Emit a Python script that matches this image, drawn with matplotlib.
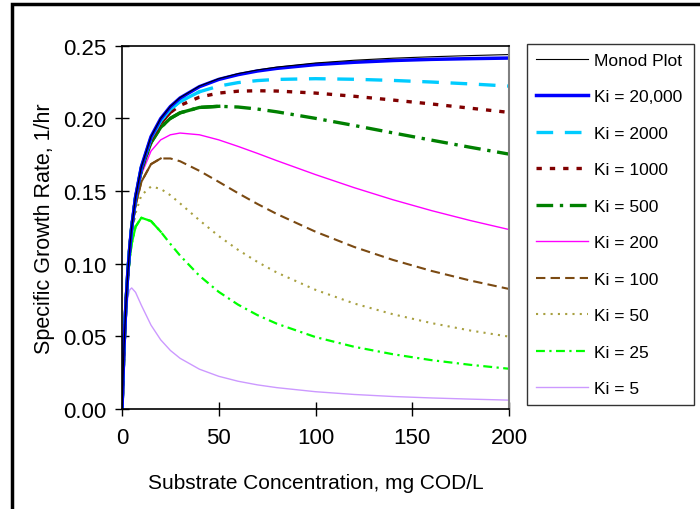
import matplotlib
matplotlib.use("Agg")
import matplotlib.pyplot as plt
from matplotlib.patches import Rectangle

plt.rcParams['font.family'] = ['Liberation Sans', 'DejaVu Sans']

# substrate concentration, mg COD/L
substrate = [0, 1, 2, 3, 4, 5, 7, 10, 15, 20, 25, 30, 40, 50, 60, 70, 80,
             100, 120, 140, 160, 180, 200]

# specific growth rate, 1/hr
monod = [0, 0.0417, 0.0714, 0.0938, 0.1111, 0.1250, 0.1458, 0.1667, 0.1875, 0.2000,
         0.2083, 0.2143, 0.2222, 0.2273, 0.2308, 0.2333, 0.2353, 0.2381, 0.2400,
         0.2414, 0.2424, 0.2432, 0.2439]
ki_20000 = [0, 0.0417, 0.0714, 0.0937, 0.1111, 0.1250, 0.1458, 0.1666, 0.1874, 0.1998,
            0.2081, 0.2140, 0.2218, 0.2268, 0.2301, 0.2326, 0.2344, 0.2370, 0.2386,
            0.2398, 0.2406, 0.2411, 0.2415]
ki_2000 = [0, 0.0417, 0.0714, 0.0937, 0.1110, 0.1248, 0.1455, 0.1661, 0.1865, 0.1984,
           0.2062, 0.2116, 0.2183, 0.2222, 0.2246, 0.2260, 0.2268, 0.2273, 0.2269,
           0.2261, 0.2250, 0.2237, 0.2222]
ki_1000 = [0, 0.0417, 0.0714, 0.0936, 0.1109, 0.1247, 0.1452, 0.1656, 0.1854, 0.1969,
           0.2041, 0.2089, 0.2146, 0.2174, 0.2187, 0.2190, 0.2188, 0.2174, 0.2152,
           0.2126, 0.2099, 0.2070, 0.2041]
ki_500 = [0, 0.0417, 0.0713, 0.0935, 0.1107, 0.1244, 0.1447, 0.1645, 0.1834, 0.1938,
          0.2000, 0.2038, 0.2075, 0.2083, 0.2078, 0.2064, 0.2045, 0.2000, 0.1951,
          0.1900, 0.1850, 0.1801, 0.1754]
ki_200 = [0, 0.0416, 0.0712, 0.0932, 0.1101, 0.1235, 0.1429, 0.1613, 0.1775, 0.1852,
          0.1887, 0.1899, 0.1887, 0.1852, 0.1807, 0.1759, 0.1709, 0.1613, 0.1523,
          0.1440, 0.1365, 0.1297, 0.1235]
ki_100 = [0, 0.0416, 0.0710, 0.0927, 0.1092, 0.1220, 0.1401, 0.1563, 0.1685, 0.1724,
          0.1724, 0.1705, 0.1639, 0.1563, 0.1485, 0.1411, 0.1342, 0.1220, 0.1115,
          0.1026, 0.0950, 0.0884, 0.0826]
ki_50 = [0, 0.0415, 0.0706, 0.0917, 0.1073, 0.1190, 0.1348, 0.1471, 0.1531, 0.1515,
         0.1471, 0.1415, 0.1299, 0.1190, 0.1095, 0.1012, 0.0939, 0.0820, 0.0726,
         0.0652, 0.0591, 0.0540, 0.0498]
ki_25 = [0, 0.0414, 0.0698, 0.0897, 0.1037, 0.1136, 0.1254, 0.1316, 0.1293, 0.1220,
         0.1136, 0.1056, 0.0917, 0.0806, 0.0718, 0.0646, 0.0587, 0.0495, 0.0428,
         0.0377, 0.0336, 0.0304, 0.0277]
ki_5 = [0, 0.0403, 0.0641, 0.0765, 0.0820, 0.0833, 0.0803, 0.0714, 0.0577, 0.0476,
        0.0403, 0.0349, 0.0274, 0.0225, 0.0191, 0.0166, 0.0147, 0.0119, 0.0100,
        0.0086, 0.0076, 0.0068, 0.0061]

labels = ['Monod Plot', 'Ki = 20,000', 'Ki = 2000', 'Ki = 1000', 'Ki = 500',
          'Ki = 200', 'Ki = 100', 'Ki = 50', 'Ki = 25', 'Ki = 5']
series = [monod, ki_20000, ki_2000, ki_1000, ki_500, ki_200, ki_100, ki_50, ki_25, ki_5]

# colour, width, dash pattern (None = solid), S up to which the line looks solid
styles = [
    ('black', 0.8, None, 0),
    ('#0000FF', 2.5, None, 0),
    ('#00CCFF', 2.4, (5, 3.5), 45),
    ('#800000', 2.4, (1.6, 2.4), 25),
    ('#008000', 2.4, (5, 2, 1, 2), 55),
    ('#FF00FF', 1.0, None, 0),
    ('#7B4A12', 1.5, (4.5, 2.5), 24),
    ('#A8A040', 1.5, (1, 2.5), 0),
    ('#00FF00', 1.6, (4, 2, 1, 2), 20),
    ('#CC99FF', 1.0, None, 0),
]

fig = plt.figure(figsize=(7, 5.1), dpi=100)
ax = fig.add_axes([122/700, 1 - 410/510, (509 - 122)/700, (410 - 46.7)/510])

# draw back to front so the Monod line sits on top like in the original
for lab, ys, (col, lw, dash, solid_to) in reversed(list(zip(labels, series, styles))):
    if dash is None:
        ax.plot(substrate, ys, color=col, lw=lw, label=lab)
    else:
        ax.plot(substrate, ys, color=col, lw=lw, dashes=dash, label=lab)
        if solid_to:
            xs = [s for s in substrate if s <= solid_to]
            ax.plot(xs, ys[:len(xs)], color=col, lw=lw)

ax.set_xlim(0, 200)
ax.set_ylim(0, 0.25)
ax.set_xticks([0, 50, 100, 150, 200])
ax.set_yticks([0, 0.05, 0.10, 0.15, 0.20, 0.25])
ax.set_yticklabels(['0.00', '0.05', '0.10', '0.15', '0.20', '0.25'])
ax.tick_params(direction='inout', length=10, width=1, labelsize=16, pad=6)
ax.tick_params(axis='x', pad=8)
for side in ['left', 'bottom', 'top']:
    ax.spines[side].set_color('black')
    ax.spines[side].set_linewidth(1.2)
ax.spines['right'].set_color('#808080')
ax.spines['right'].set_linewidth(1.5)

ax.set_xlabel('Substrate Concentration, mg COD/L', fontsize=15, labelpad=18)
ax.set_ylabel('Specific Growth Rate, 1/hr', fontsize=15.5, labelpad=6)

handles, labs = ax.get_legend_handles_labels()
handles, labs = handles[::-1], labs[::-1]
leg = fig.legend(handles, labs, loc='upper left',
                 bbox_to_anchor=(527/700, 1 - 410/510, (694 - 527)/700, (410 - 45)/510),
                 mode='expand', fontsize=12.5, handlelength=3.0, handletextpad=0.35,
                 labelspacing=1.23, borderpad=0.5, fancybox=False, frameon=True,
                 borderaxespad=0)
leg.get_frame().set_edgecolor('black')
leg.get_frame().set_linewidth(1.0)

# outer chart border (cut off at right and bottom in the original)
fig.patches.append(Rectangle((12/700, -0.2), 1.2, 1.2 - 5/510, transform=fig.transFigure,
                             fill=False, edgecolor='black', lw=2.5))

fig.savefig('out.png', dpi=100)
